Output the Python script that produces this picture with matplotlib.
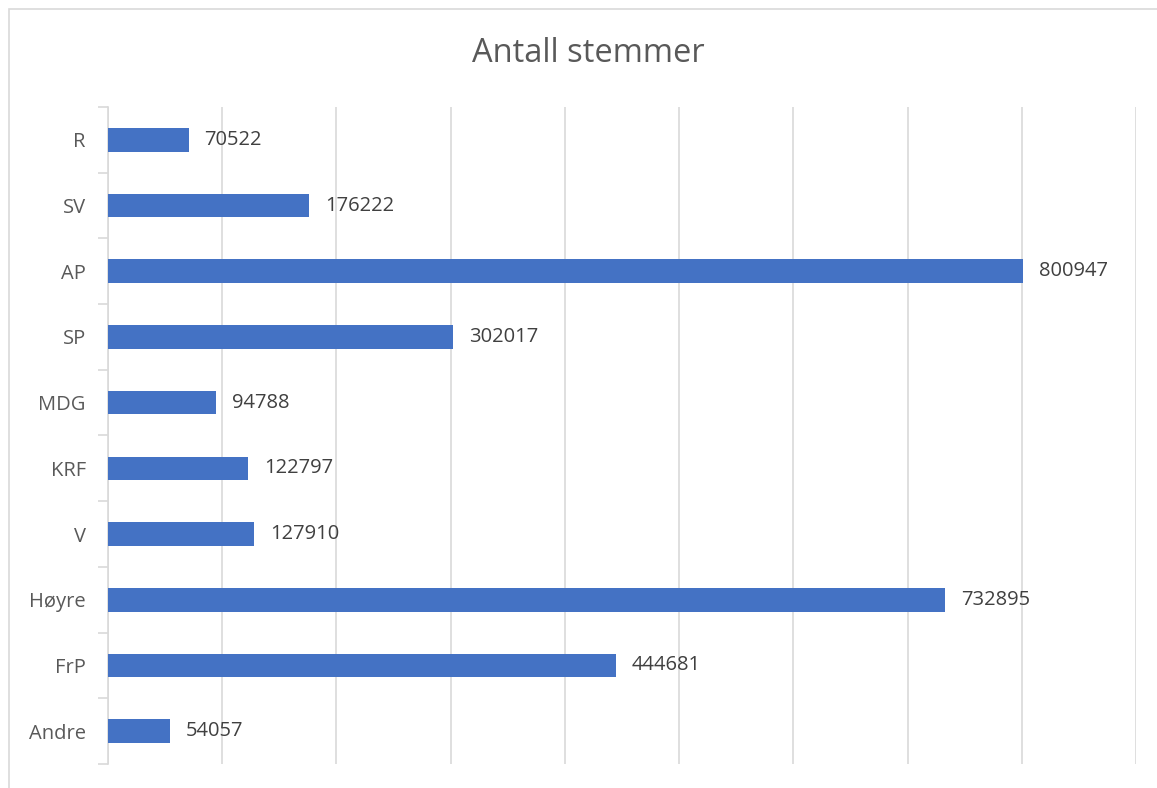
import matplotlib.pyplot as plt
from matplotlib.patches import Rectangle

# stemmer per parti (bottom to top as drawn)
parties = ['Andre', 'FrP', 'Høyre', 'V', 'KRF', 'MDG', 'SP', 'AP', 'SV', 'R']
votes = [54057, 444681, 732895, 127910, 122797, 94788, 302017, 800947, 176222, 70522]

plt.rcParams['font.family'] = ['Open Sans', 'DejaVu Sans']

W, H = 1157, 788
fig = plt.figure(figsize=(W / 100, H / 100), dpi=100)
ax = fig.add_axes([108 / W, 1 - 764 / H, (1136 - 108) / W, (764 - 107) / H])

ypos = range(len(parties))
ax.barh(ypos, votes, height=0.36, color='#4472C4', zorder=3)

for y, v in zip(ypos, votes):
    ax.text(v + 14000, y, str(v), va='center', ha='left', fontsize=14.5, color='#404040')

ax.set_xlim(0, 900000)
ax.set_ylim(-0.5, len(parties) - 0.5)
ax.set_xticks(range(0, 900001, 100000))
ax.set_xticklabels([])
ax.tick_params(axis='x', length=0)
ax.grid(axis='x', color='#D9D9D9', linewidth=1.2, zorder=0)

ax.set_yticks(list(ypos))
ax.set_yticklabels(parties, fontsize=14.5, color='#595959')
ax.set_yticks([i - 0.5 for i in range(len(parties) + 1)], minor=True)
ax.tick_params(axis='y', which='major', length=0, pad=16)
ax.tick_params(axis='y', which='minor', length=7, color='#D9D9D9', width=1.2)

for s in ['top', 'right', 'bottom']:
    ax.spines[s].set_visible(False)
ax.spines['left'].set_color('#D9D9D9')
ax.spines['left'].set_linewidth(1.2)

fig.text(0.5 + 10 / W, 1 - 53 / H, 'Antall stemmer', ha='center', va='center', fontsize=23.5, color='#595959')

# chart frame (cropped at right and bottom)
fig.patches.append(Rectangle((9 / W, -0.1), 2, 1 - 9 / H + 0.1, transform=fig.transFigure,
                             fill=False, edgecolor='#D9D9D9', linewidth=1.2))

fig.savefig('out.png', dpi=100)
